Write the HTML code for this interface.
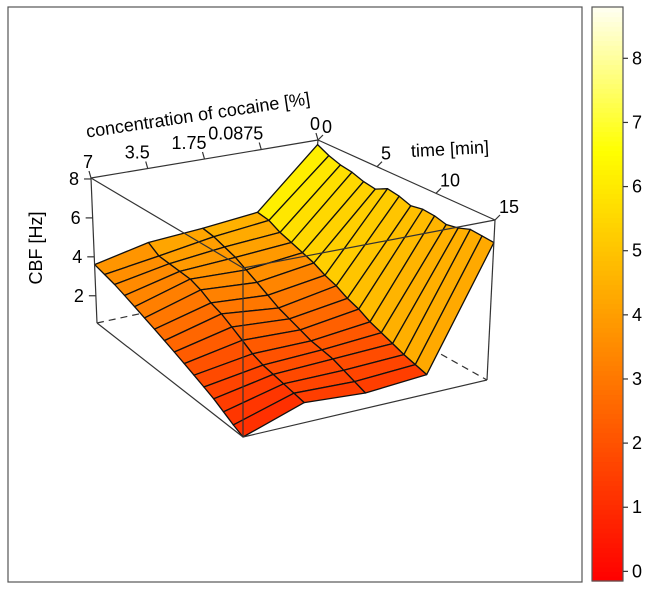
<!DOCTYPE html>
<html><head><meta charset="utf-8"><style>
html,body{margin:0;padding:0;background:#fff;}
svg{display:block;font-family:"Liberation Sans",sans-serif;}
</style></head><body>
<svg id="chart" width="657" height="592" viewBox="0 0 657 592">
<rect x="8" y="7" width="574" height="575" fill="#fff" stroke="#555" stroke-width="1.2"/>
<g id="hidden"></g>
<g id="surface"></g>
<g id="box"></g>
<g id="axes"></g>
<text x="198" y="121" font-size="18" text-anchor="middle" transform="rotate(-8.5 198 115)">concentration of cocaine [%]</text>
<text x="450" y="155" font-size="18" text-anchor="middle" transform="rotate(-3 450 150)">time [min]</text>
<text x="42" y="248" font-size="18" text-anchor="middle" transform="rotate(-90 42 248)">CBF [Hz]</text>
<g id="colorkey"></g>
</svg>
<script>
// ---- data ----
const concLabels = ["7","3.5","1.75","0.0875","0"];
const timeTicks = [0,5,10,15];
const zTicks = [2,4,6,8];
const keyTicks = [0,1,2,3,4,5,6,7,8];
const cbf_c7     = [3.6,3.45,3.3,3.1,2.9,2.7,2.5,2.3,2.1,1.9,1.7,1.5,1.3,1.05,0.8,0.6];
const cbf_c3_5   = [4.2,3.85,3.8,3.75,3.7,3.5,3.2,3.0,2.7,2.4,2.1,1.9,1.8,1.7,1.6,1.5];
const cbf_c1_75  = [4.4,4.3,4.1,3.9,3.6,3.3,3.0,2.7,2.5,2.3,2.1,2.0,1.9,1.7,1.5,1.3];
const cbf_c0_0875= [4.7,4.6,4.3,4.1,3.9,3.7,3.4,3.2,2.9,2.7,2.4,2.2,2.0,1.8,1.65,1.5];
const cbf_c0     = [7.8,7.5,7.3,7.2,7.0,6.9,7.2,7.1,6.9,7.0,6.95,6.8,6.9,7.1,7.05,7.0];
const grid = [cbf_c7,cbf_c3_5,cbf_c1_75,cbf_c0_0875,cbf_c0];

// ---- geometry ----
const NS="http://www.w3.org/2000/svg";
const TOP=[[91,178],[318,140],[495,220],[243,268]];
const BOT=[[97,323],[305,278],[487,380],[243,437]];
const ZMIN=0.6, ZMAX=8.05, TMAX=15;
const KMIN=-0.15, KMAX=8.8, KTOP=7, KBOT=581;
function bil(P,u,v){return [0,1].map(k=>(1-u)*(1-v)*P[0][k]+u*(1-v)*P[1][k]+u*v*P[2][k]+(1-u)*v*P[3][k]);}
function proj(u,v,w){const a=bil(TOP,u,v),b=bil(BOT,u,v);return [b[0]+w*(a[0]-b[0]),b[1]+w*(a[1]-b[1])];}
function wz(z){return (z-ZMIN)/(ZMAX-ZMIN);}
function P(i,j){return proj(i/(concLabels.length-1), j/TMAX, wz(grid[i][j]));}
function heat(z){
  let f=(z-KMIN)/(KMAX-KMIN);f=Math.max(0,Math.min(1,f));
  let h,s;
  if(f<=0.75){h=60*f/0.75;s=1;}else{h=60;s=1-(f-0.75)/0.25*0.95;}
  return "hsl("+h.toFixed(1)+",100%,"+(50+50*(1-s)).toFixed(1)+"%)";
}
function el(tag,attrs,parent){const e=document.createElementNS(NS,tag);for(const k in attrs)e.setAttribute(k,attrs[k]);parent.appendChild(e);return e;}
function line(g,a,b,extra){return el("line",Object.assign({x1:a[0],y1:a[1],x2:b[0],y2:b[1],stroke:"#333","stroke-width":1.2},extra||{}),g);}

// hidden edges
const hid=document.getElementById("hidden");
[[BOT[0],BOT[1]],[BOT[1],BOT[2]],[TOP[1],BOT[1]]].forEach(p=>{
  const l=line(hid,p[0],p[1],{"stroke-dasharray":"7,5"});
  
  
});

// surface facets
const surf=document.getElementById("surface");
const facets=[];
for(let i=0;i<grid.length-1;i++)for(let j=0;j<TMAX;j++){
  facets.push({i:i,j:j,key:j/TMAX-i/(grid.length-1)});
}
facets.sort((a,b)=>a.key-b.key);
facets.forEach(f=>{
  const i=f.i,j=f.j;
  const pts=[P(i,j),P(i+1,j),P(i+1,j+1),P(i,j+1)];
  const avg=(grid[i][j]+grid[i+1][j]+grid[i+1][j+1]+grid[i][j+1])/4;
  const poly=el("polygon",{points:pts.map(p=>p[0].toFixed(1)+","+p[1].toFixed(1)).join(" "),fill:heat(avg),stroke:"#111","stroke-width":1.3,"stroke-linejoin":"round"},surf);
  
  
});

// visible box edges
const box=document.getElementById("box");
[[TOP[0],TOP[1]],[TOP[1],TOP[2]],[TOP[2],TOP[3]],[TOP[3],TOP[0]],
 [TOP[0],BOT[0]],[TOP[2],BOT[2]],[TOP[3],BOT[3]],[BOT[0],BOT[3]],[BOT[3],BOT[2]]].forEach(p=>{
  const l=line(box,p[0],p[1]);
  
  
});

// axes ticks & labels
const ax=document.getElementById("axes");
concLabels.forEach((lab,k)=>{
  const p=proj(k/(concLabels.length-1),0,1);
  const t=line(ax,p,[p[0]-2,p[1]-7]);
  
  
  const tx=el("text",{x:p[0]+2,y:p[1]-10,"font-size":18,"text-anchor":"end"},ax);
  tx.textContent=lab;
  
  
});
timeTicks.forEach(tv=>{
  const p=proj(1,tv/TMAX,1);
  const t=line(ax,p,[p[0]+5,p[1]-5]);
  
  
  const tx=el("text",{x:p[0]+4,y:p[1]-7,"font-size":18,"text-anchor":"start"},ax);
  tx.textContent=String(tv);
  
  
});
zTicks.forEach(zv=>{
  const p=proj(0,0,wz(zv));
  const t=line(ax,p,[p[0]-7,p[1]]);
  
  
  const tx=el("text",{x:p[0]-12,y:p[1]+6,"font-size":18,"text-anchor":"end"},ax);
  tx.textContent=String(zv);
  
  
});

// color key
const ck=document.getElementById("colorkey");
const N=120;
for(let n=0;n<N;n++){
  const z0=KMIN+(KMAX-KMIN)*n/N, z1=KMIN+(KMAX-KMIN)*(n+1)/N;
  const y0=KBOT-(KBOT-KTOP)*n/N, y1=KBOT-(KBOT-KTOP)*(n+1)/N;
  const r=el("rect",{x:592,y:y1.toFixed(2),width:31,height:(y0-y1+0.6).toFixed(2),fill:heat((z0+z1)/2)},ck);
  
  
}
const kb=el("rect",{x:592,y:KTOP,width:31,height:KBOT-KTOP,fill:"none",stroke:"#555","stroke-width":1.2},ck);


keyTicks.forEach(kv=>{
  const y=KBOT-(kv-KMIN)/(KMAX-KMIN)*(KBOT-KTOP);
  const t=line(ck,[623,y],[628,y]);
  
  
  const tx=el("text",{x:632,y:y+6,"font-size":18},ck);
  tx.textContent=String(kv);
  
  
});
</script>
</body></html>
